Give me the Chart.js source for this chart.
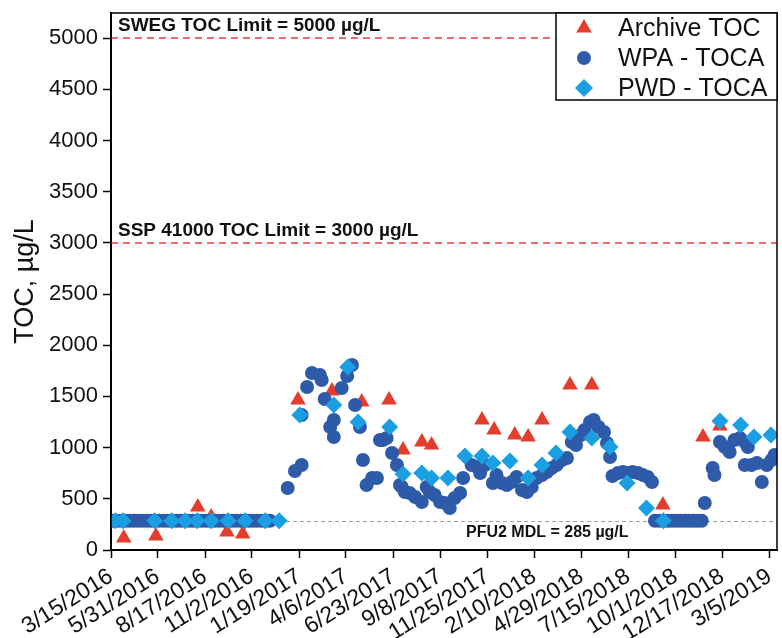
<!DOCTYPE html>
<html>
<head>
<meta charset="utf-8">
<script src="https://cdn.jsdelivr.net/npm/chart.js@4.4.1/dist/chart.umd.min.js"></script>
<style>
  html, body { margin: 0; padding: 0; background: #fff; }
  #wrap { width: 782px; height: 638px; }
</style>
</head>
<body>
<div id="wrap"><canvas id="tocChart" width="782" height="638"></canvas></div>
<script>
// tick labels (x is days since 3/15/2016)
const xTickLabels = ['3/15/2016', '5/31/2016', '8/17/2016', '11/2/2016', '1/19/2017', '4/6/2017', '6/23/2017',
    '9/8/2017', '11/25/2017', '2/10/2018', '4/29/2018', '7/15/2018', '10/1/2018', '12/17/2018', '3/5/2019'];
const yTicks = [0, 500, 1000, 1500, 2000, 2500, 3000, 3500, 4000, 4500, 5000];

// Archive TOC
const archiveDays = [21, 74, 143, 165, 191, 217, 308, 364, 413, 458, 481, 512, 528, 611, 631, 665, 687, 710, 756, 792, 909, 975, 1003];
const archiveToc = [117, 137, 420, 322, 176, 156, 1465, 1553, 1445, 1465, 977, 1055, 1025, 1270, 1172, 1123, 1104, 1270, 1611, 1611, 440, 1104, 1211];

// WPA - TOCA
const wpaDays = [3, 10, 17, 24, 31, 38, 45, 52, 59, 66, 73, 80, 87, 94, 101, 108, 115, 122, 129, 136, 143, 150, 157,
    164, 171, 178, 185, 192, 199, 206, 213, 220, 227, 234, 241, 248, 255, 262,
    291, 303, 314, 314, 323, 331, 344, 347, 352, 361, 367, 367, 380, 389, 397, 402, 410, 415, 421, 430,
    438, 443, 448, 454, 463, 471, 476, 479, 484, 492, 501, 512, 520, 525, 533, 542, 550, 558, 566, 575,
    580, 594, 603, 608, 616, 629, 635, 644, 652, 660, 668, 677, 685, 693, 701, 710, 718, 726, 734, 743,
    751, 759, 766, 774, 780, 789, 795, 803, 812, 817, 822, 826, 835, 843, 851, 859, 868, 876, 884, 891,
    896, 903, 910, 917, 924, 931, 938, 945, 952, 959, 966, 973,
    978, 991, 994, 1003, 1011, 1019, 1027, 1036, 1044, 1049, 1044, 1055, 1064, 1072, 1080, 1088, 1093];
const wpaToc = [285, 285, 285, 285, 285, 285, 285, 285, 285, 285, 285, 285, 285, 285, 285, 285, 285, 285, 285, 285, 285, 285, 285,
    285, 285, 285, 285, 285, 285, 285, 285, 285, 285, 285, 285, 285, 285, 285,
    605, 772, 830, 1318, 1592, 1729, 1709, 1660, 1475, 1201, 1270, 1104, 1582, 1699, 1807, 1416, 1201, 879, 635, 703,
    703, 1074, 1074, 1094, 947, 830, 635, 615, 566, 557, 518, 469, 615, 566, 537, 469, 459, 410, 508, 557,
    703, 830, 811, 752, 830, 654, 732, 654, 635, 664, 713, 586, 566, 615, 703, 732, 762, 801, 830, 879,
    898, 1055, 1025, 1123, 1172, 1250, 1270, 1201, 1152, 1045, 908, 723, 752, 762, 752, 762, 752, 732, 713, 664,
    285, 285, 285, 285, 285, 285, 285, 285, 285, 285, 285, 285,
    459, 801, 732, 1055, 1006, 957, 1074, 1094, 1055, 1006, 830, 830, 850, 664, 830, 879, 928];

// PWD - TOCA
const pwdDays = [7, 20, 72, 100, 122, 142, 165, 193, 221, 254, 277,
    311, 367, 390, 407, 459, 481, 512, 528, 555, 583, 611, 629, 657, 687, 710, 733, 756, 792, 822, 850,
    882, 910, 1003, 1037, 1059, 1087];
const pwdToc = [285, 285, 285, 285, 285, 285, 285, 285, 285, 285, 285,
    1318, 1416, 1787, 1250, 1201, 742, 752, 703, 703, 918, 918, 850, 869, 703, 830, 947, 1152, 1094, 1006, 654,
    410, 285, 1260, 1221, 1104, 1123];

// reference lines
const limitValues = [5000, 3000];
const limitLabels = ['SWEG TOC Limit = 5000 µg/L', 'SSP 41000 TOC Limit = 3000 µg/L'];
const mdlValue = 285;
const mdlLabel = 'PFU2 MDL = 285 µg/L';

const seriesNames = ['Archive TOC', 'WPA - TOCA', 'PWD - TOCA'];

const startDate = new Date(xTickLabels[0]);
const xTickDays = xTickLabels.map(d => Math.round((new Date(d) - startDate) / 86400000));

function toPoints(days, vals) {
    return days.map((d, i) => ({ x: d, y: vals[i] }));
}

const FONT = "'Liberation Sans', Arial, sans-serif";
const RED = '#e23d2d';
const DARK_BLUE = '#2d5ba9';
const LIGHT_BLUE = '#1a9fe3';

// dashed lines under the markers, labels, frame and legend on top
const refLines = {
    id: 'refLines',
    beforeDatasetsDraw(chart) {
        const { ctx, chartArea, scales } = chart;
        ctx.save();
        ctx.lineWidth = 1.5;
        ctx.strokeStyle = '#ee3b3b';
        ctx.setLineDash([7, 5]);
        limitValues.forEach(v => {
            const y = Math.round(scales.y.getPixelForValue(v));
            ctx.beginPath();
            ctx.moveTo(chartArea.left, y);
            ctx.lineTo(chartArea.right, y);
            ctx.stroke();
        });
        ctx.strokeStyle = '#a0a0a0';
        ctx.lineWidth = 1;
        ctx.setLineDash([4, 3]);
        const ym = Math.round(scales.y.getPixelForValue(mdlValue)) + 0.5;
        ctx.beginPath();
        ctx.moveTo(chartArea.left, ym);
        ctx.lineTo(chartArea.right, ym);
        ctx.stroke();
        ctx.restore();
    },
    afterDatasetsDraw(chart) {
        const { ctx, chartArea, scales } = chart;
        ctx.save();
        ctx.fillStyle = '#111';
        ctx.font = 'bold 19px ' + FONT;
        ctx.textAlign = 'left';
        ctx.textBaseline = 'bottom';
        limitValues.forEach((v, i) => {
            const y = scales.y.getPixelForValue(v);
            ctx.fillText(limitLabels[i], chartArea.left + 7, y - 3);
        });
        ctx.font = 'bold 16px ' + FONT;
        ctx.textBaseline = 'top';
        const ym = scales.y.getPixelForValue(mdlValue);
        ctx.fillText(mdlLabel, chartArea.left + 355, ym + 4);

        // plot frame
        ctx.strokeStyle = '#000';
        ctx.lineWidth = 1.5;
        ctx.setLineDash([]);
        ctx.strokeRect(chartArea.left, chartArea.top, chartArea.right - chartArea.left, chartArea.bottom - chartArea.top);

        // legend box
        const boxW = 221, boxH = 87;
        const boxL = chartArea.right - boxW, boxT = chartArea.top;
        ctx.fillStyle = '#fff';
        ctx.fillRect(boxL, boxT, boxW, boxH);
        ctx.strokeRect(boxL, boxT, boxW, boxH);
        const styles = [
            { pointStyle: 'triangle', radius: 9, color: RED },
            { pointStyle: 'circle', radius: 7, color: DARK_BLUE },
            { pointStyle: 'rectRot', radius: 9, color: LIGHT_BLUE }
        ];
        ctx.font = '25px ' + FONT;
        ctx.textBaseline = 'middle';
        seriesNames.forEach((name, i) => {
            const cy = boxT + 15 + i * 30;
            ctx.fillStyle = styles[i].color;
            Chart.helpers.drawPoint(ctx, { pointStyle: styles[i].pointStyle, radius: styles[i].radius, rotation: 0, borderWidth: 0 }, boxL + 28, cy);
            ctx.fillStyle = '#111';
            ctx.fillText(name, boxL + 62, cy + 1);
        });
        ctx.restore();
    }
};

const ctx = document.getElementById('tocChart').getContext('2d');
new Chart(ctx, {
    type: 'scatter',
    data: {
        datasets: [
            {
                label: seriesNames[0],
                data: toPoints(archiveDays, archiveToc),
                pointStyle: 'triangle',
                pointRadius: 9,
                backgroundColor: RED,
                borderWidth: 0,
                order: 3
            },
            {
                label: seriesNames[1],
                data: toPoints(wpaDays, wpaToc),
                pointStyle: 'circle',
                pointRadius: 7,
                backgroundColor: DARK_BLUE,
                borderWidth: 0,
                order: 2
            },
            {
                label: seriesNames[2],
                data: toPoints(pwdDays, pwdToc),
                pointStyle: 'rectRot',
                pointRadius: 8.5,
                backgroundColor: LIGHT_BLUE,
                borderWidth: 0,
                order: 1
            }
        ]
    },
    options: {
        responsive: false,
        animation: false,
        devicePixelRatio: 1,
        events: [],
        layout: { autoPadding: false, padding: { top: 13, right: 5, left: 0, bottom: 0 } },
        plugins: {
            legend: { display: false },
            tooltip: { enabled: false }
        },
        scales: {
            x: {
                type: 'linear',
                min: 0,
                max: 1097,
                afterBuildTicks: s => { s.ticks = xTickDays.map(v => ({ value: v })); },
                afterFit: s => { s.height = 88; s.paddingLeft = 0; s.paddingRight = 0; },
                ticks: {
                    autoSkip: false,
                    minRotation: 32,
                    maxRotation: 32,
                    padding: 5,
                    color: '#111',
                    font: { size: 23, family: FONT },
                    callback: (v, i) => xTickLabels[i]
                },
                grid: { drawOnChartArea: false, tickLength: 8, tickColor: '#000', tickWidth: 1.5 },
                border: { color: '#000', width: 2 }
            },
            y: {
                type: 'linear',
                min: 0,
                max: 5245,
                afterBuildTicks: s => { s.ticks = yTicks.map(v => ({ value: v })); },
                afterFit: s => { s.width = 111; s.paddingTop = 0; s.paddingBottom = 0; },
                ticks: {
                    padding: 5,
                    color: '#111',
                    font: { size: 22, family: FONT },
                    callback: v => String(v)
                },
                grid: { drawOnChartArea: false, tickLength: 8, tickColor: '#000', tickWidth: 1.5 },
                border: { color: '#000', width: 2 },
                title: {
                    display: true,
                    text: 'TOC, µg/L',
                    color: '#111',
                    font: { size: 27, family: FONT },
                    padding: { top: 9, bottom: 0 }
                }
            }
        }
    },
    plugins: [refLines]
});
</script>
</body>
</html>
